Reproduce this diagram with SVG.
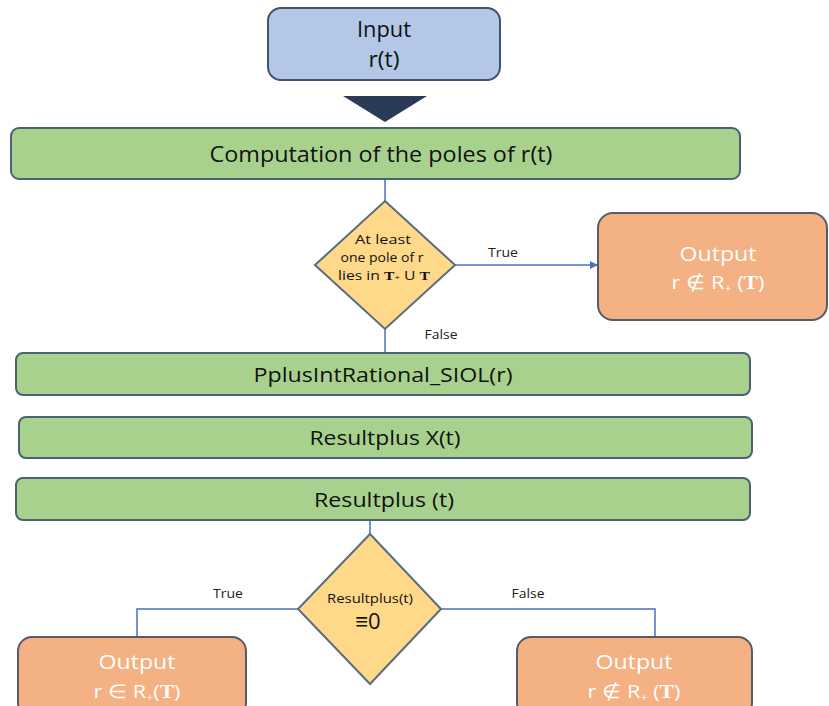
<svg xmlns="http://www.w3.org/2000/svg" width="829" height="706" viewBox="0 0 829 706">
<style>
.bar{fill:#a9d18e;stroke:#4a6272;stroke-width:2}
.inp{fill:#b4c7e7;stroke:#44546a;stroke-width:2}
.out{fill:#f4b183;stroke:#555c66;stroke-width:2}
.dia{fill:#ffd98a;stroke:#5a6b80;stroke-width:2}
.t{font-family:"Open Sans","Liberation Sans",Arial,sans-serif;fill:#111;text-anchor:middle}
.tw{font-family:"Open Sans","Liberation Sans",Arial,sans-serif;fill:#fff;text-anchor:middle}
.ser{font-family:"Liberation Serif","Times New Roman",serif;font-weight:bold}
.lbl{font-family:"Open Sans","Liberation Sans",Arial,sans-serif;fill:#222;font-size:12px;text-anchor:middle}
.c{fill:none;stroke:#4472c4;stroke-width:1.5}
</style>
<defs>
<marker id="arr" markerWidth="8" markerHeight="8" refX="7" refY="4" orient="auto" markerUnits="userSpaceOnUse">
<path d="M0,0 L8,4 L0,8 z" fill="#4472c4"/>
</marker>
</defs>
<rect width="829" height="706" fill="#fff"/>
<g id="connectors">
<line class="c" x1="385" y1="180" x2="385" y2="201"/>
<line class="c" x1="455" y1="265" x2="597" y2="265" marker-end="url(#arr)"/>
<line class="c" x1="385" y1="329" x2="385" y2="352"/>
<line class="c" x1="370" y1="520" x2="370" y2="534"/>
<polyline class="c" points="298,609 137,609 137,637"/>
<polyline class="c" points="441,609 655,609 655,637"/>
<text class="lbl" x="503" y="257" textLength="30" lengthAdjust="spacingAndGlyphs">True</text>
<text class="lbl" x="441" y="339" textLength="33" lengthAdjust="spacingAndGlyphs">False</text>
<text class="lbl" x="228" y="598" textLength="30" lengthAdjust="spacingAndGlyphs">True</text>
<text class="lbl" x="528" y="598" textLength="33" lengthAdjust="spacingAndGlyphs">False</text>
</g>
<g id="input">
<rect class="inp" x="268" y="8" width="232" height="72" rx="13"/>
<text class="t" x="384" y="37" font-size="21" textLength="54" lengthAdjust="spacingAndGlyphs">Input</text>
<text class="t" x="384" y="67" font-size="21" textLength="31" lengthAdjust="spacingAndGlyphs">r(t)</text>
</g>
<g id="arrow-down">
<polygon points="343,96 427,96 385,122" fill="#2b3a55"/>
</g>
<g id="computation">
<rect class="bar" x="11" y="128" width="729" height="51" rx="8"/>
<text class="t" x="381" y="162" font-size="21" textLength="343" lengthAdjust="spacingAndGlyphs">Computation of the poles of r(t)</text>
</g>
<g id="decision1">
<polygon class="dia" points="385,201 455,265 385,329 315,265"/>
<text class="t" x="383" y="244" font-size="12.5" textLength="56" lengthAdjust="spacingAndGlyphs">At least</text>
<text class="t" x="382" y="262" font-size="12.5" textLength="83" lengthAdjust="spacingAndGlyphs">one pole of r</text>
<text class="t" x="384" y="280" font-size="13" textLength="92" lengthAdjust="spacingAndGlyphs">lies in <tspan class="ser">T</tspan><tspan font-size="8">+</tspan> U <tspan class="ser">T</tspan></text>
</g>
<g id="output-top">
<rect class="out" x="598" y="213" width="229" height="107" rx="15"/>
<text class="tw" x="718" y="261" font-size="20" textLength="77" lengthAdjust="spacingAndGlyphs">Output</text>
<text class="tw" x="718" y="289" font-size="19" textLength="93" lengthAdjust="spacingAndGlyphs">r ∉ R<tspan font-size="11" dy="3">+</tspan><tspan dy="-3"> (</tspan><tspan class="ser">T</tspan>)</text>
</g>
<g id="pplus">
<rect class="bar" x="16" y="353" width="734" height="42" rx="7"/>
<text class="t" x="383" y="382" font-size="20" textLength="259" lengthAdjust="spacingAndGlyphs">PplusIntRational_SIOL(r)</text>
</g>
<g id="resultplus-x">
<rect class="bar" x="19" y="417" width="733" height="41" rx="7"/>
<text class="t" x="385" y="445" font-size="20" textLength="151" lengthAdjust="spacingAndGlyphs">Resultplus X(t)</text>
</g>
<g id="resultplus-t">
<rect class="bar" x="16" y="478" width="734" height="42" rx="7"/>
<text class="t" x="384" y="507" font-size="20" textLength="140" lengthAdjust="spacingAndGlyphs">Resultplus (t)</text>
</g>
<g id="decision2">
<polygon class="dia" points="370,534 441,609 370,684 298,609"/>
<text class="t" x="370" y="603" font-size="12.5" textLength="86" lengthAdjust="spacingAndGlyphs">Resultplus(t)</text>
<text class="t" x="368" y="629" font-size="22">≡0</text>
</g>
<g id="output-left">
<rect class="out" x="18" y="637" width="228" height="80" rx="14"/>
<text class="tw" x="137" y="669" font-size="20" textLength="77" lengthAdjust="spacingAndGlyphs">Output</text>
<text class="tw" x="137" y="698" font-size="19" textLength="87" lengthAdjust="spacingAndGlyphs">r ∈ R<tspan font-size="11" dy="3">+</tspan><tspan dy="-3">(</tspan><tspan class="ser">T</tspan>)</text>
</g>
<g id="output-right">
<rect class="out" x="517" y="637" width="235" height="80" rx="14"/>
<text class="tw" x="634" y="669" font-size="20" textLength="77" lengthAdjust="spacingAndGlyphs">Output</text>
<text class="tw" x="634" y="698" font-size="19" textLength="93" lengthAdjust="spacingAndGlyphs">r ∉ R<tspan font-size="11" dy="3">+</tspan><tspan dy="-3"> (</tspan><tspan class="ser">T</tspan>)</text>
</g>
</svg>
